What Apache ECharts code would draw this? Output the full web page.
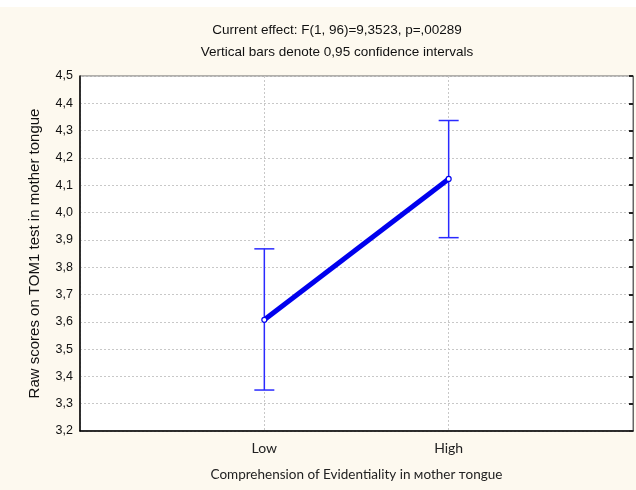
<!DOCTYPE html>
<html>
<head>
<meta charset="utf-8">
<script src="https://cdn.jsdelivr.net/npm/echarts@6/dist/echarts.min.js"></script>
<style>
  html, body { margin: 0; padding: 0; background: #fdf9ef; }
  #main { width: 636px; height: 490px; }
</style>
</head>
<body>
<div id="main"></div>
<script>
// groups on the x axis (positions 1 and 2 on a 0..3 axis)
var groupLabels = ['', 'Low', 'High', ''];
var groupPos = [1, 2];
// means and 0,95 confidence limits
var means = [3.607, 4.123];
var ciLow = [3.350, 3.908];
var ciHigh = [3.867, 4.337];

var chart = echarts.init(document.getElementById('main'));

var lineData = groupPos.map(function (p, i) { return [p, means[i]]; });
var errData = groupPos.map(function (p, i) { return [p, ciLow[i], ciHigh[i]]; });

var fmt = function (v) { return v.toFixed(1).replace('.', ','); };

var option = {
    backgroundColor: '#fdf9ef',
    animation: false,
    graphic: [
        { type: 'rect', left: 0, top: 0, shape: { width: 636, height: 7 }, style: { fill: '#ffffff' } }
    ],
    title: {
        text: 'Current effect: F(1, 96)=9,3523, p=,00289',
        subtext: 'Vertical bars denote 0,95 confidence intervals',
        left: 332,
        textAlign: 'center',
        top: 18,
        itemGap: 8,
        textStyle: { fontFamily: 'Liberation Sans', fontSize: 13.5, fontWeight: 'normal', color: '#111' },
        subtextStyle: { fontFamily: 'Liberation Sans', fontSize: 13.5, color: '#111' }
    },
    grid: {
        left: 80, right: 2, top: 76, bottom: 59,
        show: true,
        backgroundColor: '#ffffff',
        borderColor: '#666',
        borderWidth: 1
    },
    xAxis: {
        type: 'value',
        min: 0, max: 3, interval: 1,
        name: 'Comprehension of Evidentiality in мother тongue',
        nameLocation: 'middle',
        nameGap: 37,
        nameTextStyle: { fontFamily: 'Lato', fontSize: 13.5, color: '#222' },
        axisLine: { lineStyle: { color: '#000', width: 1.5 } },
        axisTick: { show: false },
        axisLabel: {
            margin: 10,
            fontFamily: 'Lato', fontSize: 14, color: '#222',
            formatter: function (v) { return groupLabels[v] || ''; }
        },
        splitLine: { show: true, lineStyle: { color: '#c8c8c8', type: [2, 2] } }
    },
    yAxis: [{
        type: 'value',
        min: 3.2, max: 4.5, interval: 0.1,
        name: 'Raw scores on TOM1 test in mother tongue',
        nameLocation: 'middle',
        nameGap: 38,
        nameTextStyle: { fontFamily: 'Liberation Sans', fontSize: 15, color: '#111' },
        axisLine: { show: true, lineStyle: { color: '#000', width: 1.5 } },
        axisTick: { show: false },
        axisLabel: { fontFamily: 'Liberation Sans', fontSize: 12.5, color: '#111', margin: 7, formatter: fmt },
        splitLine: { show: true, lineStyle: { color: '#c8c8c8', type: [2, 2] } }
    }, {
        type: 'value',
        position: 'right',
        min: 3.2, max: 4.5, interval: 0.1,
        axisLine: { show: true, lineStyle: { color: '#666', width: 1 } },
        axisTick: { show: true, inside: true, length: 4, lineStyle: { color: '#222', width: 2 } },
        axisLabel: { show: false },
        splitLine: { show: false }
    }],
    series: [{
        type: 'custom',
        data: errData,
        z: 2,
        renderItem: function (params, api) {
            var x = api.value(0);
            var lo = api.coord([x, api.value(1)]);
            var hi = api.coord([x, api.value(2)]);
            var half = 10;
            var st = { stroke: '#2a2aff', lineWidth: 1.5 };
            return {
                type: 'group',
                children: [
                    { type: 'line', shape: { x1: hi[0], y1: hi[1], x2: lo[0], y2: lo[1] }, style: st },
                    { type: 'line', shape: { x1: hi[0] - half, y1: hi[1], x2: hi[0] + half, y2: hi[1] }, style: st },
                    { type: 'line', shape: { x1: lo[0] - half, y1: lo[1], x2: lo[0] + half, y2: lo[1] }, style: st }
                ]
            };
        }
    }, {
        type: 'line',
        data: lineData,
        z: 3,
        symbol: 'circle',
        symbolSize: 5,
        lineStyle: { color: '#0000ee', width: 5 },
        itemStyle: { color: '#ffffff', borderColor: '#0000ee', borderWidth: 1.2 }
    }]
};

chart.setOption(option);
</script>
</body>
</html>
